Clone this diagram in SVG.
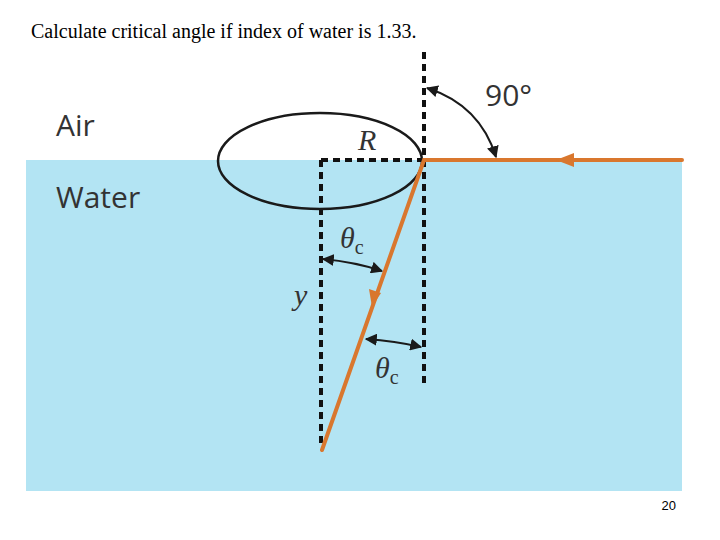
<svg xmlns="http://www.w3.org/2000/svg" width="720" height="540" viewBox="0 0 720 540">
<style>
.d{stroke:#111;stroke-width:4;stroke-dasharray:7,5;fill:none}
.a{stroke:#1a1a1a;stroke-width:2;fill:none}
.o{stroke:#d9772e;stroke-width:4;fill:none;stroke-linecap:round}
.l{font-family:"Open Sans","Liberation Sans",sans-serif;font-size:30px;fill:#333}
.i{font-family:"Liberation Serif",serif;font-style:italic;font-size:30px;fill:#333}
</style>
<defs>
<marker id="ah" viewBox="0 0 10 10" refX="9" refY="5" markerWidth="6" markerHeight="6" orient="auto-start-reverse"><path d="M0,0L10,5L0,10z" fill="#1a1a1a"/></marker>
</defs>
<rect width="720" height="540" fill="#fff"/>
<rect x="26" y="160" width="656" height="331" fill="#b3e4f3"/>
<text x="31" y="38" font-family="Liberation Serif,serif" font-size="20">Calculate critical angle if index of water is 1.33.</text>
<text x="56" y="136" class="l">Air</text>
<text x="56" y="208" class="l">Water</text>
<text x="485" y="106" class="l">90°</text>
<text x="358" y="150" class="i">R</text>
<text x="340" y="248" class="i">θ<tspan font-size="20" font-style="normal" dy="6">c</tspan></text>
<text x="294" y="305" class="i">y</text>
<text x="375" y="378" class="i">θ<tspan font-size="20" font-style="normal" dy="6">c</tspan></text>
<text x="676" y="510" font-family="Liberation Sans,sans-serif" font-size="13" text-anchor="end">20</text>
<g id="connectors">
<line class="d" x1="424" y1="52" x2="424" y2="386"/>
<line class="d" x1="321" y1="160" x2="321" y2="445"/>
<line class="d" x1="321" y1="160" x2="424" y2="160"/>
<ellipse cx="320" cy="161" rx="102" ry="48" stroke="#1a1a1a" stroke-width="2.5" fill="none"/>
<path class="a" d="M427,88 Q480,105 496,157" marker-start="url(#ah)" marker-end="url(#ah)"/>
<path class="a" d="M323,259 Q355,262 382,271" marker-start="url(#ah)" marker-end="url(#ah)"/>
<path class="a" d="M366,339 Q395,341 421,347" marker-start="url(#ah)" marker-end="url(#ah)"/>
<path class="o" d="M682,160 L424,160 L322,450"/>
<path d="M556,160 L574,153 L574,167z" fill="#d9772e"/>
<path d="M372,307 L369,289 L381,293z" fill="#d9772e"/>
</g>
</svg>
